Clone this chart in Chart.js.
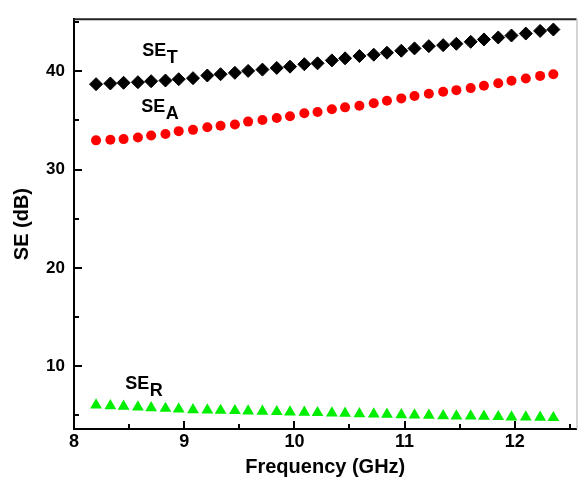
<!DOCTYPE html>
<html>
<head>
<meta charset="utf-8">
<script src="https://cdn.jsdelivr.net/npm/chart.js@4.4.1/dist/chart.umd.min.js"></script>
<style>
  html, body { margin: 0; padding: 0; background: #fff; }
  #wrap { width: 584px; height: 480px; position: relative; }
</style>
</head>
<body>
<div id="wrap"><canvas id="c" width="584" height="480"></canvas></div>
<script>
// ---- data ----
const freq = [8.20, 8.33, 8.45, 8.58, 8.70, 8.83, 8.95, 9.08, 9.21, 9.33, 9.46, 9.58, 9.71, 9.84, 9.96, 10.09, 10.21,
              10.34, 10.46, 10.59, 10.72, 10.84, 10.97, 11.09, 11.22, 11.35, 11.47, 11.60, 11.72, 11.85, 11.97, 12.10, 12.23, 12.35];
const seT = [38.69, 38.76, 38.83, 38.89, 38.99, 39.06, 39.19, 39.30, 39.57, 39.70, 39.84, 40.04, 40.17, 40.34, 40.47, 40.72,
             40.81, 41.11, 41.32, 41.55, 41.69, 41.89, 42.09, 42.33, 42.56, 42.66, 42.80, 43.00, 43.24, 43.44, 43.64, 43.84, 44.11, 44.25];
const seA = [32.97, 33.03, 33.10, 33.27, 33.47, 33.61, 33.91, 34.04, 34.31, 34.45, 34.58, 34.88, 35.04, 35.25, 35.42, 35.73,
             35.86, 36.13, 36.33, 36.50, 36.74, 37.01, 37.24, 37.48, 37.71, 37.92, 38.08, 38.29, 38.52, 38.79, 39.03, 39.26, 39.53, 39.70];
const seR = [6.03, 5.96, 5.90, 5.83, 5.76, 5.69, 5.63, 5.56, 5.53, 5.49, 5.46, 5.42, 5.39, 5.36, 5.32, 5.29, 5.26,
             5.22, 5.19, 5.15, 5.12, 5.09, 5.05, 5.02, 4.99, 4.95, 4.92, 4.92, 4.89, 4.85, 4.82, 4.82, 4.79, 4.75];

const xMajorTicks = [8, 9, 10, 11, 12];
const xMinorTicks = [8.5, 9.5, 10.5, 11.5, 12.5];
const yMajorTicks = [10, 20, 30, 40];
const yMinorTicks = [5, 15, 25, 35, 45];

const seriesNames = ['SE', 'SE', 'SE'];
const seriesSubs = ['T', 'A', 'R'];
const labelX = [8.62, 8.61, 8.465];
const labelY = [41.56, 35.83, 7.62];

const xTitle = 'Frequency (GHz)';
const yTitle = 'SE (dB)';

// ---- chart ----
const toPts = arr => arr.map((v, i) => ({ x: freq[i], y: v }));

const annotPlugin = {
  id: 'annot',
  afterDraw(chart) {
    const ctx = chart.ctx;
    const xs = chart.scales.x, ys = chart.scales.y;
    const ca = chart.chartArea;
    ctx.save();
    // frame top and right
    ctx.strokeStyle = '#222';
    ctx.lineWidth = 2;
    ctx.beginPath();
    ctx.moveTo(ca.left, ca.top);
    ctx.lineTo(ca.right, ca.top);
    ctx.stroke();
    ctx.strokeStyle = '#aaa';
    ctx.lineWidth = 1;
    ctx.beginPath();
    ctx.moveTo(ca.right + 0.5, ca.top);
    ctx.lineTo(ca.right + 0.5, ca.bottom);
    ctx.stroke();
    // inward ticks
    ctx.strokeStyle = '#000';
    ctx.lineWidth = 2;
    const tick = (vals, len) => {
      vals.forEach(v => {
        const px = Math.round(xs.getPixelForValue(v));
        ctx.beginPath();
        ctx.moveTo(px, ca.bottom);
        ctx.lineTo(px, ca.bottom - len);
        ctx.stroke();
      });
    };
    const ytick = (vals, len) => {
      vals.forEach(v => {
        const py = Math.round(ys.getPixelForValue(v));
        ctx.beginPath();
        ctx.moveTo(ca.left, py);
        ctx.lineTo(ca.left + len, py);
        ctx.stroke();
      });
    };
    tick(xMajorTicks, 8);
    tick(xMinorTicks, 5);
    ytick(yMajorTicks, 8);
    ytick(yMinorTicks, 5);
    // series labels
    ctx.fillStyle = '#000';
    ctx.textBaseline = 'alphabetic';
    ctx.textAlign = 'left';
    for (let i = 0; i < seriesNames.length; i++) {
      const px = xs.getPixelForValue(labelX[i]);
      const py = ys.getPixelForValue(labelY[i]);
      ctx.font = 'bold 18px "Liberation Sans", Arial, sans-serif';
      ctx.fillText(seriesNames[i], px, py);
      const w = ctx.measureText(seriesNames[i]).width;
      ctx.fillText(seriesSubs[i], px + w + 0.5, py + 7);
    }
    ctx.restore();
  }
};

new Chart(document.getElementById('c'), {
  type: 'scatter',
  data: {
    datasets: [
      { label: 'SE_T', data: toPts(seT), pointStyle: 'rectRot', pointRadius: 6.5,
        backgroundColor: '#000', borderColor: '#000', borderWidth: 1 },
      { label: 'SE_A', data: toPts(seA), pointStyle: 'circle', pointRadius: 5,
        backgroundColor: '#ff0000', borderColor: '#ff0000', borderWidth: 0 },
      { label: 'SE_R', data: toPts(seR), pointStyle: 'triangle', pointRadius: 6.8,
        backgroundColor: '#00ee00', borderColor: '#00ee00', borderWidth: 0 }
    ]
  },
  options: {
    responsive: false,
    animation: false,
    devicePixelRatio: 1,
    layout: { padding: { top: 16, right: 4, left: 0, bottom: 0 } },
    plugins: { legend: { display: false }, tooltip: { enabled: false } },
    scales: {
      x: {
        type: 'linear', min: 8, max: 12.56,
        afterFit: s => { s.height = 51; },
        afterBuildTicks: s => { s.ticks = xMajorTicks.map(v => ({ value: v })); },
        ticks: { color: '#000', font: { family: '"Liberation Sans", Arial, sans-serif', size: 18, weight: 'bold' },
                 padding: 2, maxRotation: 0, autoSkip: false, callback: v => String(v) },
        grid: { drawOnChartArea: false, drawTicks: false },
        border: { display: true, color: '#000', width: 2 },
        title: { display: true, text: xTitle, color: '#000',
                 font: { family: '"Liberation Sans", Arial, sans-serif', size: 20, weight: 'bold' },
                 padding: { top: 0, bottom: 1 } }
      },
      y: {
        type: 'linear', min: 3.6, max: 45.3,
        afterFit: s => { s.width = 74; },
        afterBuildTicks: s => { s.ticks = yMajorTicks.map(v => ({ value: v })); },
        ticks: { color: '#000', font: { family: '"Liberation Sans", Arial, sans-serif', size: 17, weight: 'bold' },
                 padding: 9, autoSkip: false, callback: v => String(v) },
        grid: { drawOnChartArea: false, drawTicks: false },
        border: { display: true, color: '#000', width: 2 },
        title: { display: true, text: yTitle, color: '#000',
                 font: { family: '"Liberation Sans", Arial, sans-serif', size: 20, weight: 'bold' },
                 padding: { top: 10, bottom: 0 } }
      }
    }
  },
  plugins: [annotPlugin]
});
</script>
</body>
</html>
